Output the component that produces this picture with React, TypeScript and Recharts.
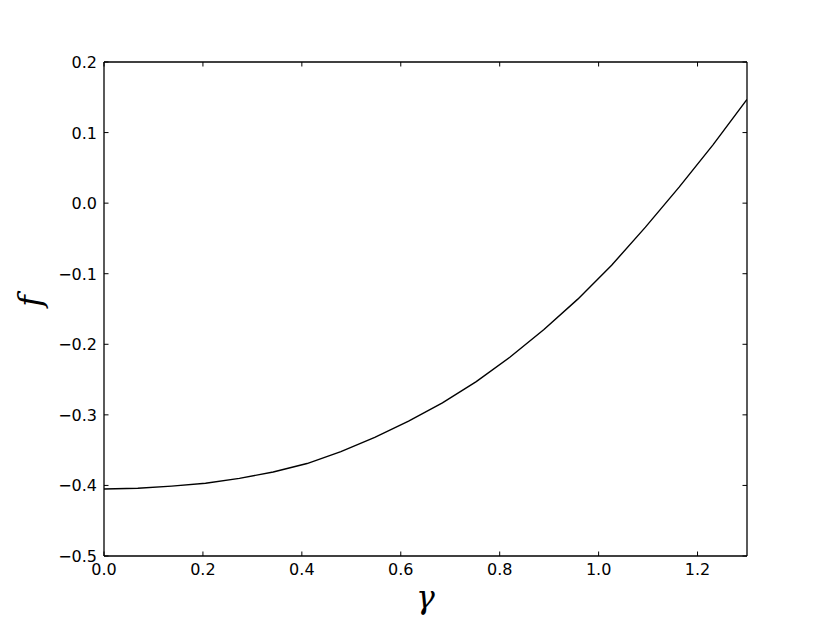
import React from 'react';
import { LineChart, Line, XAxis, YAxis } from 'recharts';

// gamma samples (x) and f values
const gammaValues = [
  0, 0.0684, 0.1368, 0.2053, 0.2737, 0.3421, 0.4105, 0.4789, 0.5474, 0.6158,
  0.6842, 0.7526, 0.8211, 0.8895, 0.9579, 1.0263, 1.0947, 1.1632, 1.2316, 1.3,
];
const fValues = [
  -0.405, -0.404, -0.401, -0.397, -0.39, -0.381, -0.369, -0.352, -0.332, -0.309,
  -0.283, -0.253, -0.218, -0.179, -0.136, -0.088, -0.034, 0.023, 0.083, 0.147,
];
const xTicks = [0, 0.2, 0.4, 0.6, 0.8, 1.0, 1.2];
const yTicks = [-0.5, -0.4, -0.3, -0.2, -0.1, 0.0, 0.1, 0.2];

const data = gammaValues.map((g, i) => ({ g, f: fValues[i] }));

const TICK_LEN = 4.5;
const tickFont = { fontFamily: '"DejaVu Sans", sans-serif', fontSize: 16, fill: '#000' };
const fmt = (v: number) => v.toFixed(1).replace('-', '\u2212');

const BottomTick = (props: any) => {
  const { x, y, payload } = props;
  return (
    <g>
      <line x1={x} x2={x} y1={y} y2={y - TICK_LEN} stroke="#000" strokeWidth={1} />
      <text x={x} y={y + 19} textAnchor="middle" {...tickFont}>{fmt(payload.value)}</text>
    </g>
  );
};

const TopTick = (props: any) => {
  const { x, y } = props;
  return <line x1={x} x2={x} y1={y} y2={y + TICK_LEN} stroke="#000" strokeWidth={1} />;
};

const LeftTick = (props: any) => {
  const { x, y, payload } = props;
  return (
    <g>
      <line x1={x} x2={x + TICK_LEN} y1={y} y2={y} stroke="#000" strokeWidth={1} />
      <text x={x - 7} y={y + 6} textAnchor="end" {...tickFont}>{fmt(payload.value)}</text>
    </g>
  );
};

const RightTick = (props: any) => {
  const { x, y } = props;
  return <line x1={x} x2={x - TICK_LEN} y1={y} y2={y} stroke="#000" strokeWidth={1} />;
};

const mathFont = {
  fontFamily: '"DejaVu Serif", serif',
  fontStyle: 'italic' as const,
  fontSize: 31,
  fill: '#000',
};

export default function App() {
  return (
    <div style={{ position: 'absolute', left: 0, top: 0, background: '#fff' }}>
      <LineChart
        width={830}
        height={619}
        data={data}
        margin={{ top: 52, right: 73, bottom: 33, left: 44 }}
      >
        <XAxis
          xAxisId="b"
          dataKey="g"
          type="number"
          domain={[0, 1.3]}
          ticks={xTicks}
          interval={0}
          height={30}
          tickSize={0}
          tickMargin={0}
          tickLine={false}
          axisLine={{ stroke: '#000', strokeWidth: 1.3 }}
          tick={<BottomTick />}
          allowDataOverflow
          label={{
            content: (p: any) => {
              const vb = p.viewBox;
              return (
                <text x={vb.x + vb.width / 2} y={vb.y + 52} textAnchor="middle" {...mathFont}>γ</text>
              );
            },
          }}
        />
        <XAxis
          xAxisId="t"
          dataKey="g"
          type="number"
          orientation="top"
          domain={[0, 1.3]}
          ticks={xTicks}
          interval={0}
          height={10}
          tickSize={0}
          tickMargin={0}
          tickLine={false}
          axisLine={{ stroke: '#000', strokeWidth: 1.3 }}
          tick={<TopTick />}
          allowDataOverflow
        />
        <YAxis
          yAxisId="l"
          type="number"
          domain={[-0.5, 0.2]}
          ticks={yTicks}
          interval={0}
          width={60}
          tickSize={0}
          tickMargin={0}
          tickLine={false}
          axisLine={{ stroke: '#000', strokeWidth: 1.3 }}
          tick={<LeftTick />}
          allowDataOverflow
          label={{
            content: (p: any) => {
              const vb = p.viewBox;
              const cx = 31;
              const cy = vb.y + vb.height / 2 - 8;
              return (
                <text
                  x={cx}
                  y={cy}
                  textAnchor="middle"
                  transform={`rotate(-90 ${cx} ${cy})`}
                  dy={10}
                  {...mathFont}
                >
                  f
                </text>
              );
            },
          }}
        />
        <YAxis
          yAxisId="r"
          type="number"
          orientation="right"
          domain={[-0.5, 0.2]}
          ticks={yTicks}
          interval={0}
          width={10}
          tickSize={0}
          tickMargin={0}
          tickLine={false}
          axisLine={{ stroke: '#000', strokeWidth: 1.3 }}
          tick={<RightTick />}
          allowDataOverflow
        />
        <Line
          xAxisId="b"
          yAxisId="l"
          type="linear"
          dataKey="f"
          stroke="#000"
          strokeWidth={1.4}
          dot={false}
          isAnimationActive={false}
        />
      </LineChart>
    </div>
  );
}
